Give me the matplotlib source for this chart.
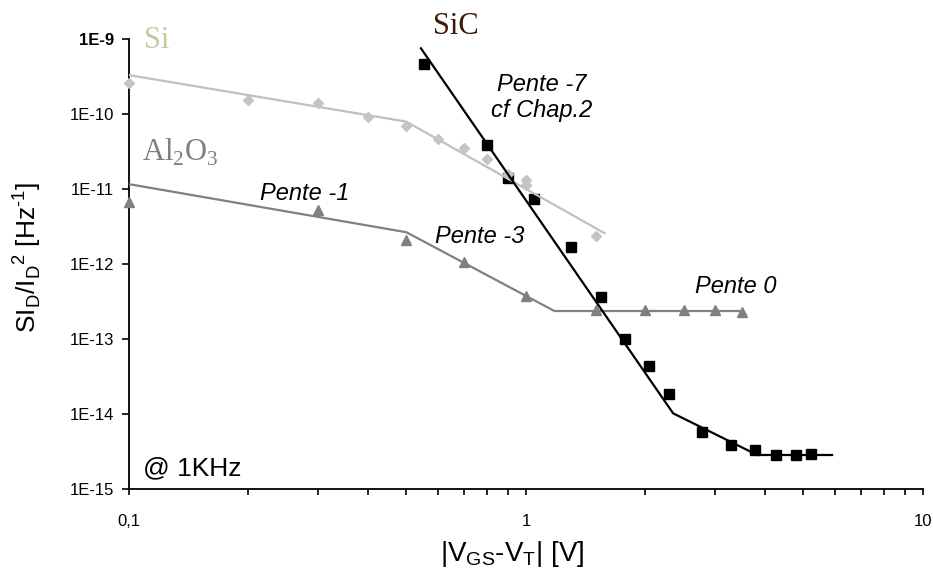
import numpy as np
import matplotlib
matplotlib.use("Agg")
import matplotlib.pyplot as plt
from matplotlib.ticker import FixedLocator, FixedFormatter, NullFormatter

plt.rcParams['font.family'] = ['Liberation Sans', 'DejaVu Sans']

# --- データ ---
si_x = [0.1, 0.2, 0.3, 0.4, 0.5, 0.6, 0.7, 0.8, 0.9, 1.0, 1.0, 1.5]
si_y = [2.6e-10, 1.55e-10, 1.4e-10, 9.2e-11, 6.9e-11, 4.6e-11, 3.5e-11,
        2.5e-11, 1.6e-11, 1.32e-11, 1.13e-11, 2.36e-12]
si_fit_x = [0.1, 0.5, 1.58]
si_fit_y = [3.3e-10, 7.9e-11, 2.57e-12]

al_x = [0.1, 0.3, 0.5, 0.7, 1.0, 1.5, 2.0, 2.5, 3.0, 3.5]
al_y = [6.7e-12, 5.2e-12, 2.1e-12, 1.07e-12, 3.8e-13, 2.4e-13, 2.4e-13,
        2.4e-13, 2.4e-13, 2.3e-13]
al_fit_x = [0.1, 0.5, 1.18, 3.5]
al_fit_y = [1.16e-11, 2.65e-12, 2.36e-13, 2.36e-13]

sic_x = [0.553, 0.8, 0.9, 1.05, 1.3, 1.55, 1.78, 2.04, 2.3, 2.78, 3.28,
         3.78, 4.28, 4.78, 5.24]
sic_y = [4.6e-10, 3.8e-11, 1.4e-11, 7.4e-12, 1.66e-12, 3.66e-13, 9.9e-14,
         4.36e-14, 1.83e-14, 5.7e-15, 3.9e-15, 3.3e-15, 2.84e-15, 2.84e-15,
         2.9e-15]
sic_fit_x = [0.544, 2.35, 3.83, 5.91]
sic_fit_y = [7.5e-10, 1.02e-14, 2.84e-15, 2.84e-15]

y_ticks = [1e-15, 1e-14, 1e-13, 1e-12, 1e-11, 1e-10, 1e-9]
y_labels = ['1E-15', '1E-14', '1E-13', '1E-12', '1E-11', '1E-10', '1E-9']
x_ticks = [0.1, 1, 10]
x_labels = ['0,1', '1', '10']

# --- 描画 ---
fig = plt.figure(figsize=(9.33, 5.69), dpi=100)
ax = fig.add_axes([0.1383, 0.1406, 0.8507, 0.7909])
ax.set_xscale('log')
ax.set_yscale('log')
ax.set_xlim(0.1, 10)
ax.set_ylim(1e-15, 1e-9)

ax.plot(sic_x, sic_y, ls='none', marker='s', ms=6.5, color='black', zorder=2)
ax.plot(si_fit_x, si_fit_y, color='#c0c0c0', lw=1.6, zorder=3)
ax.plot(si_x, si_y, ls='none', marker='D', ms=5.5, color='#c4c4c4', zorder=3,
        clip_on=False)
ax.plot(al_fit_x, al_fit_y, color='#808080', lw=1.6, zorder=3)
ax.plot(al_x, al_y, ls='none', marker='^', ms=7, color='#808080', zorder=3,
        clip_on=False)
ax.plot(sic_fit_x, sic_fit_y, color='black', lw=1.6, zorder=4)

for s in ['top', 'right']:
    ax.spines[s].set_visible(False)
for s in ['left', 'bottom']:
    ax.spines[s].set_linewidth(1.3)

ax.yaxis.set_major_locator(FixedLocator(y_ticks))
ax.yaxis.set_major_formatter(FixedFormatter(y_labels))
ax.yaxis.set_minor_locator(FixedLocator([]))
ax.xaxis.set_major_locator(FixedLocator(x_ticks))
ax.xaxis.set_major_formatter(FixedFormatter(x_labels))
ax.xaxis.set_minor_formatter(NullFormatter())
ax.tick_params(axis='y', which='major', length=5, width=1.2, pad=6, labelsize=12)
ax.tick_params(axis='x', which='both', length=4, width=1.2, pad=14, labelsize=12)
ax.get_yticklabels()[-1].set_fontweight('bold')

ax.set_ylabel('SI$_\\mathregular{D}$/I$_\\mathregular{D}$$^\\mathregular{2}$ [Hz$^\\mathregular{\u20101}$]',
              fontsize=19)
ax.yaxis.set_label_coords(-0.108, 0.5156)
ax.set_xlabel(r'|V$_\mathregular{GS}$-V$_\mathregular{T}$| [V]', fontsize=20)
ax.xaxis.set_label_coords(0.4826, -0.112)

serif = ['Liberation Serif', 'DejaVu Serif']
ax.text(0.0353, 0.9956, 'Si', transform=ax.transAxes, family=serif, fontsize=22,
        color='#c8c8a0', ha='center', va='center')
ax.text(0.412, 1.027, 'SiC', transform=ax.transAxes, family=serif, fontsize=22,
        color='#3a1a05', ha='center', va='center')
ax.text(0.0164, 0.747, r'Al$_\mathregular{2}$O$_\mathregular{3}$', transform=ax.transAxes,
        family=serif, fontsize=22, color='#808080', ha='left', va='center')

ax.text(0.2217, 0.6556, 'Pente -1', transform=ax.transAxes, fontsize=17,
        style='italic', ha='center', va='center')
ax.text(0.4422, 0.56, 'Pente -3', transform=ax.transAxes, fontsize=17,
        style='italic', ha='center', va='center')
ax.text(0.5203, 0.87, 'Pente -7\ncf Chap.2', transform=ax.transAxes, fontsize=17,
        style='italic', ha='center', va='center', linespacing=1.15)
ax.text(0.7648, 0.4489, 'Pente 0', transform=ax.transAxes, fontsize=17,
        style='italic', ha='center', va='center')
ax.text(0.0176, 0.0467, '@ 1KHz', transform=ax.transAxes, fontsize=19,
        ha='left', va='center')

plt.savefig('out.png', dpi=100)
